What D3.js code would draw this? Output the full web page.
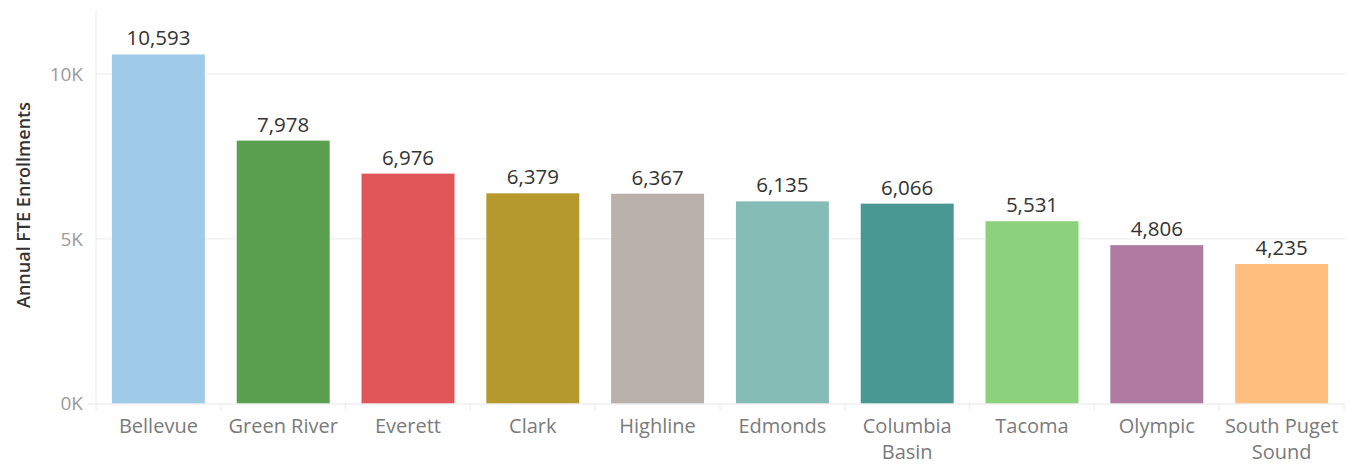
<!DOCTYPE html>
<html><head><meta charset="utf-8">
<script src="https://cdn.jsdelivr.net/npm/d3@7"></script>
<style>body{margin:0;background:#fff}svg{display:block}</style>
</head><body><svg id="c" width="1348" height="467"></svg>
<script>
const categories = ["Bellevue","Green River","Everett","Clark","Highline","Edmonds","Columbia Basin","Tacoma","Olympic","South Puget Sound"];
const values = [10593,7978,6976,6379,6367,6135,6066,5531,4806,4235];
const colors = ["#a0cbe8","#59a14f","#e15759","#b6992d","#bab0ac","#86bcb6","#499894","#8cd17d","#b07aa1","#ffbe7d"];
const yTicks = [0,5000,10000];
const yTickLabels = ["0K","5K","10K"];
const yTitle = "Annual FTE Enrollments";

const svg = d3.select("#c");
const font = "'Open Sans', sans-serif";
const x = d3.scaleBand().domain(categories).range([96,1344]).paddingInner(0.255).paddingOuter(0.1275);
const y = d3.scaleLinear().domain([0,10000]).range([403.5,74]);

// gridlines
svg.append("g").selectAll("line").data(yTicks.filter(d=>d>0)).join("line")
  .attr("x1",96).attr("x2",1345).attr("y1",d=>y(d)).attr("y2",d=>y(d))
  .attr("stroke","#f2f2f2").attr("stroke-width",1.5);

// left axis line
svg.append("line").attr("x1",96).attr("x2",96).attr("y1",10).attr("y2",404).attr("stroke","#ececec").attr("stroke-width",1);

// y tick labels
svg.append("g").selectAll("text").data(yTicks).join("text")
  .attr("x",83).attr("y",d=>y(d)).attr("dy","0.36em").attr("text-anchor","end")
  .attr("font-family",font).attr("font-size",19).attr("fill","#9a9a9a")
  .text((d,i)=>yTickLabels[i]);

// y title
svg.append("text").attr("transform","translate(30,205) rotate(-90)").attr("text-anchor","middle")
  .attr("font-family",font).attr("font-size",18).attr("font-weight",600).attr("fill","#333")
  .text(yTitle);

// bars
svg.append("g").selectAll("rect").data(categories).join("rect")
  .attr("x",d=>x(d)).attr("width",x.bandwidth())
  .attr("y",(d,i)=>y(values[i])).attr("height",(d,i)=>y(0)-y(values[i]))
  .attr("fill",(d,i)=>colors[i]);

// baseline
svg.append("line").attr("x1",88).attr("x2",1345).attr("y1",404).attr("y2",404).attr("stroke","#e8e8e8").attr("stroke-width",1.2);
// category divider ticks
const step = x.step();
svg.append("g").selectAll("line").data(d3.range(categories.length+1)).join("line")
  .attr("x1",i=>96+i*step).attr("x2",i=>96+i*step).attr("y1",404).attr("y2",411)
  .attr("stroke","#ececec");

// value labels
const fmt = d3.format(",");
svg.append("g").selectAll("text").data(categories).join("text")
  .attr("x",d=>x(d)+x.bandwidth()/2).attr("y",(d,i)=>y(values[i])-9)
  .attr("text-anchor","middle").attr("font-family",font).attr("font-size",20.5).attr("fill","#333")
  .text((d,i)=>fmt(values[i]));

// category labels, wrapped
const lab = svg.append("g").selectAll("text").data(categories).join("text")
  .attr("x",d=>x(d)+x.bandwidth()/2).attr("y",433)
  .attr("text-anchor","middle").attr("font-family",font).attr("font-size",20).attr("fill","#7a7a7a");
lab.each(function(d){
  const t = d3.select(this);
  const words = d.split(" ");
  let lines = [], cur = [];
  const tmp = t.append("tspan");
  words.forEach(w=>{
    const test = cur.concat([w]).join(" ");
    tmp.text(test);
    if (tmp.node().getComputedTextLength() > 124 && cur.length){ lines.push(cur.join(" ")); cur=[w]; }
    else cur.push(w);
  });
  lines.push(cur.join(" "));
  tmp.remove();
  lines.forEach((l,i)=>t.append("tspan").attr("x",x(d)+x.bandwidth()/2).attr("dy",i?26:0).text(l));
});
</script></body></html>
